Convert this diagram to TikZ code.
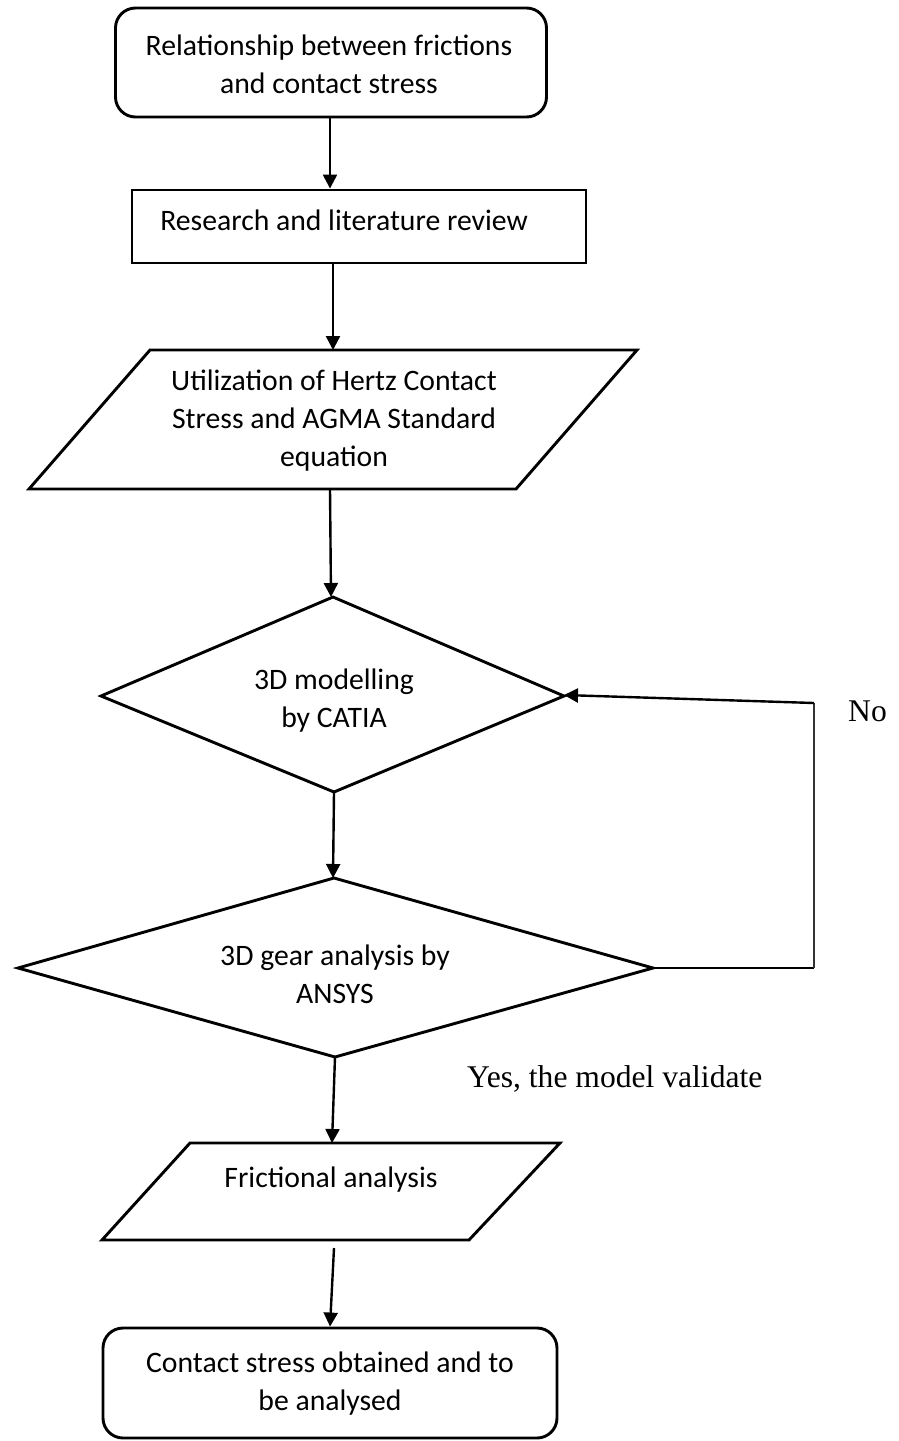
\documentclass[tikz,border=0pt]{standalone}
\usepackage{fontspec}
\setmainfont{Carlito}
\newfontfamily\tnr{Liberation Serif}
\usetikzlibrary{arrows.meta}
\tikzset{
  shp/.style={draw=black, line width=2.9pt, line join=miter},
  conn/.style={draw=black, line width=2.4pt, -{Triangle[length=14pt,width=14pt]}},
  plain/.style={draw=black, line width=1.7pt},
  thin/.style={draw=black!80, line width=1.4pt},
  txt/.style={align=center, font=\fontsize{29.7}{38}\selectfont, inner sep=0pt},
  ttxt/.style={font=\tnr\fontsize{31.6}{38}\selectfont, inner sep=0pt},
  rbox/.style={shp, rounded corners=20pt, inner sep=0pt},
  sbox/.style={shp, inner sep=0pt}
}
\begin{document}
\begin{tikzpicture}[x=1pt,y=-1pt]
\useasboundingbox (0,0) rectangle (898,1441);
% top rounded box
\node[rbox, minimum width=431pt, minimum height=109pt] (start) at (331,62.5) {};
\node[txt] (starttxt) at (329,64) {Relationship between frictions\\and contact stress};
% research rectangle
\node[sbox, minimum width=454pt, minimum height=73pt] (research) at (359,226.5) {};
\node[txt] (researchtxt) at (344,220) {Research and literature review};
% parallelogram 1
\draw[shp] (150,350) -- (637,350) -- (516,489) -- (29,489) -- cycle;
\coordinate (p1top) at (333,350);
\coordinate (p1bot) at (330,489);
\node[txt] (p1txt) at (334,421) {Utilization of Hertz Contact\\Stress and AGMA Standard\\equation};
% diamond 1
\draw[shp] (333,597) -- (564,696) -- (334,792) -- (101,696) -- cycle;
\coordinate (d1top) at (331,597);
\coordinate (d1right) at (564,695);
\coordinate (d1bot) at (334,792);
\node[txt] (d1txt) at (334,701) {3D modelling\\by CATIA};
% diamond 2
\draw[shp] (334,878) -- (653,968) -- (335,1057) -- (18,968) -- cycle;
\coordinate (d2top) at (333,878);
\coordinate (d2right) at (653,968);
\coordinate (d2bot) at (335,1057);
\node[txt] (d2txt) at (335,974) {3D gear analysis by\\ANSYS};
% parallelogram 2
\draw[shp] (190,1143) -- (560,1143) -- (469,1240) -- (102,1240) -- cycle;
\coordinate (p2top) at (332,1143);
\coordinate (p2bot) at (334,1248);
\node[txt] (p2txt) at (331,1180) {Frictional analysis};
% bottom rounded box
\node[rbox, minimum width=454pt, minimum height=110pt] (finish) at (330,1383) {};
\node[txt] (finishtxt) at (330,1384) {Contact stress obtained and to\\be analysed};
% connectors
\draw[conn] (start.south -| 330,0) -- (research.north -| 330,0);
\draw[conn] (research.south -| p1top) -- (p1top);
\draw[conn] (p1bot) -- (d1top);
\draw[conn] (d1bot) -- (d2top);
\draw[conn] (d2bot) -- (p2top);
\draw[conn] (p2bot) -- (finish.north);
% feedback loop
\coordinate (loopb) at (814,968);
\coordinate (loopt) at (814,703);
\draw[plain] (d2right) -- (loopb);
\draw[thin] (loopb) -- (loopt);
\draw[conn] (loopt) -- (d1right);
\node[ttxt, anchor=base west] (no) at (848,721) {No};
\node[ttxt, anchor=base west] (yes) at (467,1087) {Yes, the model validate};
\end{tikzpicture}
\end{document}
